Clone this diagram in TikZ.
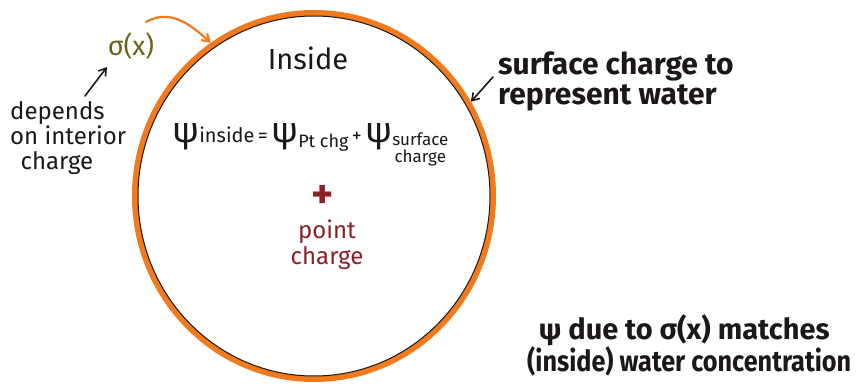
\documentclass[tikz,border=0pt]{standalone}
\usepackage{fontspec}
\setmainfont{Fira Sans}
\usetikzlibrary{shapes.geometric,arrows.meta}
\definecolor{ring}{RGB}{242,122,28}
\definecolor{ink}{RGB}{28,24,24}
\definecolor{sig}{RGB}{105,100,25}
\definecolor{ptred}{RGB}{140,32,38}
\tikzset{
  lbl/.style={text=ink, inner sep=0pt, align=left},
  handarrow/.style={-{Straight Barb[length=7pt,width=9pt]}, line width=1.6pt, line cap=round},
}
\newcommand{\bigpsi}{{\fontsize{36}{36}\selectfont ψ}}
\begin{document}
\begin{tikzpicture}[x=1pt,y=-1pt]
\useasboundingbox[fill=white] (0,0) rectangle (862,387);
% the sphere
\node[ellipse, draw=ring, line width=6pt, minimum width=358pt, minimum height=366pt, inner sep=0pt] (circ) at (314,196) {};
\draw[ink, line width=1pt] (314,196) ellipse (176pt and 180pt);
% labels
\node[text=sig, inner sep=0pt, font=\fontsize{27}{28}\selectfont] (sigma) at (131,46) {σ(x)};
\node[lbl, anchor=north west, font=\fontsize{24}{25}\selectfont] (dep) at (10,101) {depends\\on interior\\\, charge};
\node[lbl, font=\fontsize{29}{30}\selectfont] (inside) at (308,58) {Inside};
\node[lbl, anchor=base west, font=\fontsize{20}{22}\selectfont] (eq) at (172,143) {\bigpsi inside\,=\,\bigpsi\raisebox{-5pt}{\fontsize{18}{18}\selectfont Pt chg}\,+\,\bigpsi\raisebox{-3pt}{\fontsize{17}{17}\selectfont\begin{tabular}[t]{@{}c@{}}surface\\[-1pt]charge\end{tabular}}};
\node[text=ptred, inner sep=0pt, font=\fontsize{42}{42}\selectfont\bfseries] (plus) at (323,197) {+};
\node[text=ptred, inner sep=0pt, align=center, font=\fontsize{24}{26}\selectfont] (pc) at (327,245) {point\\charge};
\node[lbl, anchor=north west, font=\fontsize{30}{30}\selectfont\bfseries] (surf) at (498,52) {surface charge to\\ represent water};
\node[lbl, anchor=north west, font=\fontsize{29}{32}\selectfont\bfseries] (note) at (527,314) {\, ψ due to σ(x) matches\\\scalebox{0.87}[1]{(inside) water concentration}};
% arrows
\draw[handarrow, ink] (85,96) -- (107,67);
\draw[handarrow, ink] (493,77) -- (circ.31);
\draw[handarrow, ring, line width=2.2pt] (146,22) .. controls (168,10) and (186,20) .. (circ.124);
\end{tikzpicture}
\end{document}
